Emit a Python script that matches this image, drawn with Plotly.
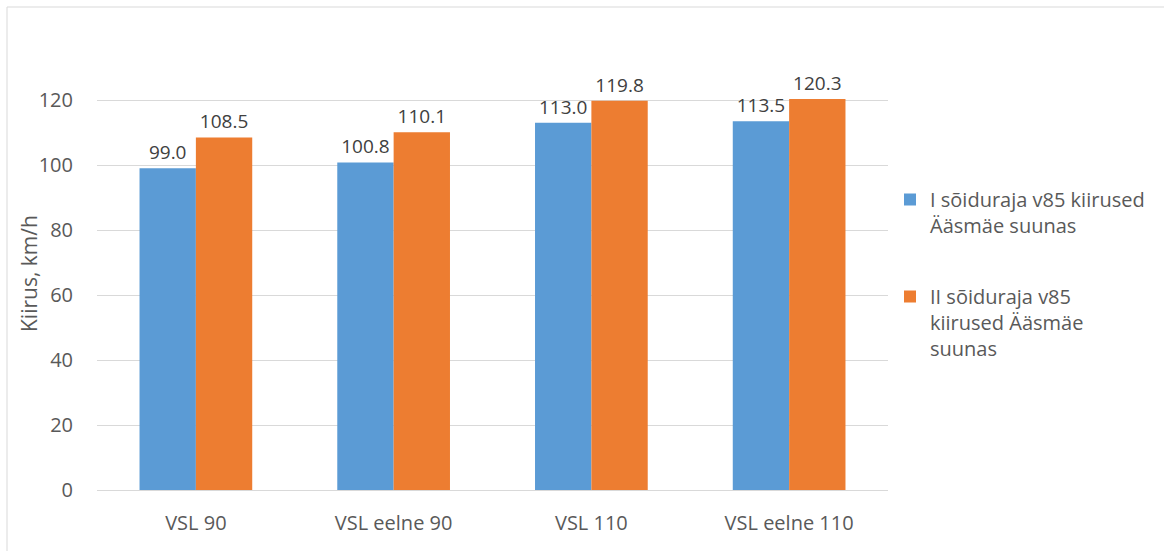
import plotly.graph_objects as go

categories = ["VSL 90", "VSL eelne 90", "VSL 110", "VSL eelne 110"]
series1_name = "I sõiduraja v85 kiirused<br>Ääsmäe suunas"
series2_name = "II sõiduraja v85<br>kiirused Ääsmäe<br>suunas"
series1 = [99.0, 100.8, 113.0, 113.5]
series2 = [108.5, 110.1, 119.8, 120.3]
y_ticks = [0, 20, 40, 60, 80, 100, 120]
y_title = "Kiirus, km/h"

W, H = 1164, 551
L, R, T, B = 97, 888, 35, 490
pw, ph = R - L, B - T

font = "Open Sans, Liberation Sans, sans-serif"
txt = "#595959"

fig = go.Figure()
fig.add_trace(go.Bar(
    x=categories, y=series1, name=series1_name, legendgroup="a", marker_color="#5B9BD5",
    marker_line_width=0,
    text=[f"{v:.1f}" for v in series1], textposition="outside",
    textfont=dict(size=19, color="#404040", family=font), cliponaxis=False))
fig.add_trace(go.Bar(
    x=categories, y=series2, name=series2_name, legendgroup="b", marker_color="#ED7D31",
    marker_line_width=0,
    text=[f"{v:.1f}" for v in series2], textposition="outside",
    textfont=dict(size=19, color="#404040", family=font), cliponaxis=False))

fig.update_layout(
    width=W, height=H,
    margin=dict(l=L, r=W - R, t=T, b=H - B, pad=0),
    paper_bgcolor="white", plot_bgcolor="white",
    barmode="group", bargap=0.43, bargroupgap=0,
    font=dict(family=font, size=20, color=txt),
    showlegend=True,
    legend=dict(x=(890 - L) / pw, y=(B - 180) / ph, xanchor="left", yanchor="top",
                font=dict(size=20, color=txt), tracegroupgap=42, valign="top",
                itemwidth=30, bgcolor="rgba(0,0,0,0)"),
    xaxis=dict(showgrid=False, showline=True, linecolor="#d9d9d9", linewidth=1,
               ticks="outside", ticklen=15, tickcolor="rgba(0,0,0,0)", automargin=False,
               tickfont=dict(size=20, color=txt)),
    yaxis=dict(range=[0, 140], tickvals=y_ticks, showgrid=True, gridcolor="#d9d9d9",
               gridwidth=1, zeroline=False, showline=False, ticks="outside",
               ticklen=19, tickcolor="rgba(0,0,0,0)", automargin=False,
               tickfont=dict(size=20, color=txt)),
    annotations=[dict(text=y_title, xref="paper", yref="paper",
                      x=(29 - L) / pw, y=(B - 274) / ph, xanchor="center", yanchor="middle",
                      textangle=-90, showarrow=False, font=dict(size=21, color=txt))],
    shapes=[dict(type="rect", xref="paper", yref="paper",
                 x0=(7 - L) / pw, x1=(1170 - L) / pw,
                 y0=(B - 560) / ph, y1=(B - 7) / ph,
                 line=dict(color="#d9d9d9", width=1), fillcolor="rgba(0,0,0,0)", layer="below")],
)

fig.write_html("out.html")
